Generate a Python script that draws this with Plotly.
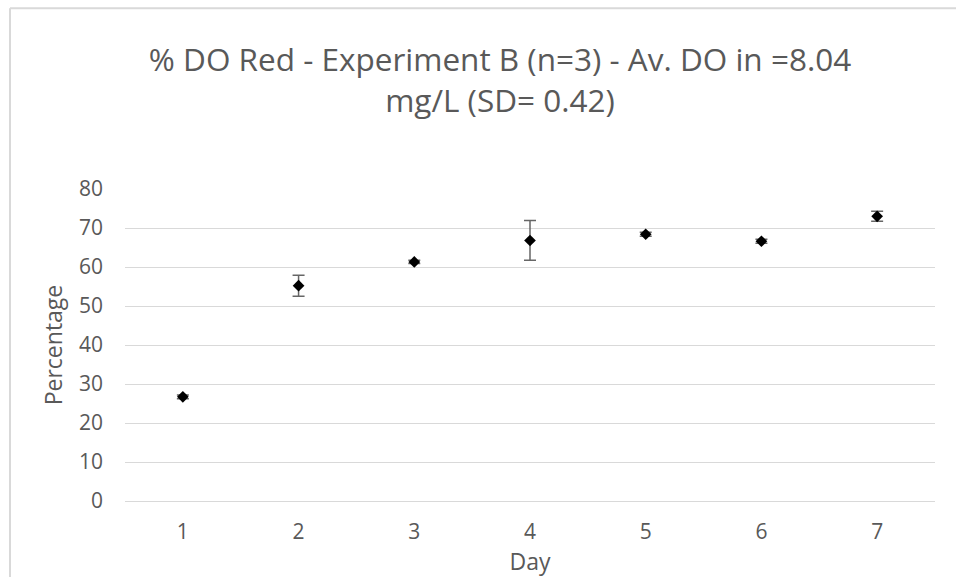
import plotly.graph_objects as go

days = ["1", "2", "3", "4", "5", "6", "7"]
percentage = [26.7, 55.2, 61.3, 66.8, 68.4, 66.6, 73.0]
sd = [0.5, 2.7, 0.4, 5.1, 0.5, 0.5, 1.3]
y_ticks = [0, 10, 20, 30, 40, 50, 60, 70, 80]

title_text = "% DO Red - Experiment B (n=3) - Av. DO in =8.04<br>mg/L (SD= 0.42)"
font_family = "Open Sans, Liberation Sans, sans-serif"
text_color = "#595959"
grid_color = "#d9d9d9"

L, R, T, B = 125, 21, 189, 74
PW, PH = 956 - L - R, 577 - T - B

fig = go.Figure()
fig.add_trace(go.Scatter(
    x=days, y=percentage, mode="markers",
    marker=dict(symbol="diamond", size=9, color="black"),
    error_y=dict(type="data", array=sd, visible=True, color="#666666", thickness=1.5, width=6),
    showlegend=False,
))

bx = (10 - L) / PW
by = 1 + (T - 7) / PH

fig.update_layout(
    width=956, height=577,
    paper_bgcolor="white", plot_bgcolor="white",
    margin=dict(l=L, r=R, t=T, b=B),
    font=dict(family=font_family, color=text_color),
    title=dict(text=title_text, x=500 / 956, xanchor="center", xref="container",
               y=1 - 71 / 577, yanchor="middle",
               font=dict(size=31.5, color=text_color, family=font_family)),
    xaxis=dict(
        type="category", range=[-0.5, 6.5],
        showgrid=False, showline=True, linecolor=grid_color, linewidth=1,
        ticks="", ticklabelstandoff=12, tickfont=dict(size=21, color=text_color),
        title=dict(text="Day", font=dict(size=23, color=text_color), standoff=4),
        zeroline=False,
    ),
    yaxis=dict(
        range=[0, 80], tickvals=y_ticks, showgrid=True, gridcolor=grid_color, gridwidth=1,
        zeroline=False, showline=False, ticks="", ticklabelstandoff=21,
        tickfont=dict(size=21, color=text_color),
        title=dict(text="Percentage", font=dict(size=23, color=text_color), standoff=9),
    ),
    shapes=[
        dict(type="line", xref="paper", yref="paper", x0=bx, x1=bx,
             y0=by, y1=-B / PH - 0.05, line=dict(color=grid_color, width=2)),
        dict(type="line", xref="paper", yref="paper", x0=bx, x1=1 + (R + 5) / PW,
             y0=by, y1=by, line=dict(color=grid_color, width=2)),
    ],
)

fig.write_html("out.html", config={"displayModeBar": False},
               post_script="document.body.style.margin='0';document.body.style.overflow='hidden';")
